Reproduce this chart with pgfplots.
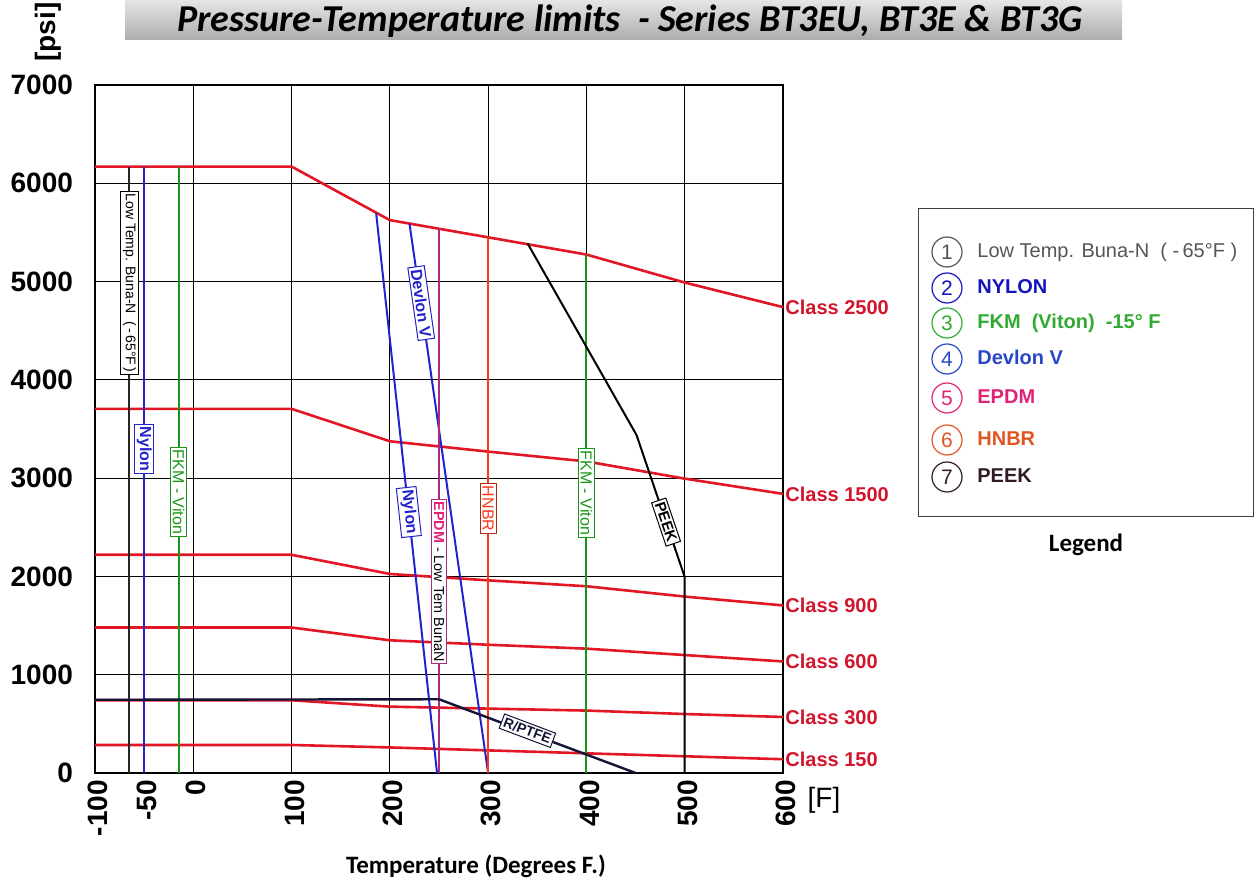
\documentclass[border=0pt]{standalone}
\usepackage{pgfplots}
\pgfplotsset{compat=1.18}
\usepackage{pgfplotstable}
\usepackage{fontspec}
\setmainfont{Liberation Sans}
\newfontfamily\carlito{Carlito}
\definecolor{classred}{RGB}{226,22,36}
\definecolor{labelred}{RGB}{210,20,45}
\definecolor{nylonblue}{RGB}{35,35,205}
\definecolor{fkmgreen}{RGB}{25,150,25}
\definecolor{epdmline}{RGB}{170,45,125}
\definecolor{epdmtext}{RGB}{230,30,120}
\definecolor{hnbr}{RGB}{255,55,25}
\definecolor{ptfe}{RGB}{20,20,55}
\definecolor{legblue2}{RGB}{20,20,190}
\definecolor{leggreen}{RGB}{50,170,50}
\definecolor{legblue4}{RGB}{40,70,200}
\definecolor{legpink}{RGB}{225,35,120}
\definecolor{legorange}{RGB}{225,85,35}
\definecolor{legdark}{RGB}{50,25,40}
\definecolor{leggray}{RGB}{85,85,85}

\pgfplotstableread{
T    c2500 c1500 c900 c600 c300 c150
-100 6170  3705  2220 1480 740  285
100  6170  3705  2220 1480 740  285
200  5625  3375  2025 1350 675  260
300  5450  3270  1960 1305 655  230
400  5275  3170  1900 1265 635  200
500  4990  2995  1795 1200 600  170
600  4740  2840  1705 1135 570  140
}\classes

\tikzset{
  lbl/.style={draw=#1, fill=white, inner sep=1.2pt, line width=0.5pt},
  px/.style={shift={(0,441pt)}, x=0.5pt, y=-0.5pt},
  clab/.style={anchor=west, text=labelred, font=\bfseries\fontsize{10}{10}\selectfont, inner sep=1pt},
}

\begin{document}
\begin{tikzpicture}
\useasboundingbox (0,0) rectangle (629.5pt,441pt);
\begin{axis}[
  at={(47.5pt,54.5pt)}, anchor=south west,
  scale only axis, width=344pt, height=344pt,
  xmin=-100, xmax=600, ymin=0, ymax=7000,
  xtick={-100,-50,0,100,200,300,400,500,600},
  xticklabels={-100,-50,0,100,200,300,400,500,600},
  ytick={0,1000,2000,3000,4000,5000,6000,7000},
  yticklabels={0,1000,2000,3000,4000,5000,6000,7000},
  scaled y ticks=false,
  extra x ticks={0,100,200,300,400,500},
  extra x tick labels={},
  extra x tick style={xmajorgrids=true},
  ymajorgrids=true,
  major tick length=0pt,
  grid style={black, line width=0.6pt},
  axis line style={black, line width=0.9pt},
  xticklabel style={rotate=90, anchor=east, font=\bfseries\fontsize{14}{14}\selectfont, yshift=-1.5pt},
  yticklabel style={font=\bfseries\fontsize{14}{14}\selectfont, xshift=-7.5pt},
  clip=false,
]
\addplot[classred, line width=1.3pt] table[x=T,y=c2500]{\classes};
\addplot[classred, line width=1.3pt] table[x=T,y=c1500]{\classes};
\addplot[classred, line width=1.3pt] table[x=T,y=c900]{\classes};
\addplot[classred, line width=1.3pt] table[x=T,y=c600]{\classes};
\addplot[classred, line width=1.3pt] table[x=T,y=c300]{\classes};
\addplot[classred, line width=1.3pt] table[x=T,y=c150]{\classes};

\addplot[black!85, line width=1pt] coordinates {(-65,0)(-65,6170)};
\addplot[nylonblue, line width=1pt] coordinates {(-50,0)(-50,6170)};
\addplot[fkmgreen, line width=1pt] coordinates {(-15,0)(-15,6170)};
\addplot[nylonblue, line width=1pt] coordinates {(186,5700)(248,0)};
\addplot[nylonblue, line width=1pt] coordinates {(220,5590)(300,0)};
\addplot[epdmline, line width=1pt] coordinates {(250,0)(250,5540)};
\addplot[hnbr, line width=1pt] coordinates {(300,0)(300,5450)};
\addplot[fkmgreen, line width=1pt] coordinates {(400,0)(400,5275)};
\addplot[black, line width=1pt] coordinates {(340,5390)(451,3438)(500,1994)(500,0)};
\addplot[ptfe, line width=1.2pt] coordinates {(-100,745)(250,750)(450,0)};

\node[lbl=black, rotate=-90, font=\fontsize{7}{7}\selectfont] at (axis cs:-65,4985) {Low Temp. Buna-N\ \ (\,-\,65°F\,)};
\node[lbl=nylonblue, rotate=-90, text=nylonblue, font=\bfseries\fontsize{8}{8}\selectfont] at (axis cs:-50,3296) {Nylon};
\node[lbl=fkmgreen, rotate=-90, text=fkmgreen, font=\fontsize{8}{8}\selectfont] at (axis cs:-15,2860) {FKM - Viton};
\node[lbl=nylonblue, rotate=-81.9, text=nylonblue, font=\bfseries\fontsize{8}{8}\selectfont] at (axis cs:231.9,4781) {Devlon V};
\node[lbl=nylonblue, rotate=-83.8, text=nylonblue, font=\bfseries\fontsize{8}{8}\selectfont] at (axis cs:219.3,2655) {Nylon};
\node[lbl=epdmline, rotate=-90, font=\fontsize{7.2}{7.2}\selectfont] at (axis cs:250,1948) {\textcolor{epdmtext}{\bfseries EPDM} - Low Tem BunaN};
\node[lbl=hnbr!70!black, rotate=-90, text=hnbr, font=\fontsize{8}{8}\selectfont] at (axis cs:300,2690) {HNBR};
\node[lbl=fkmgreen, rotate=-90, text=fkmgreen, font=\fontsize{8}{8}\selectfont] at (axis cs:400,2850) {FKM - Viton};
\node[lbl=black, rotate=-71.3, font=\bfseries\fontsize{7.5}{7.5}\selectfont] at (axis cs:481,2553) {PEEK};
\node[lbl=ptfe, rotate=-20.6, text=ptfe, font=\bfseries\fontsize{7}{7}\selectfont] at (axis cs:340,430) {R/PTFE};

\node[clab] at (axis cs:600,4740) {Class 2500};
\node[clab] at (axis cs:600,2840) {Class 1500};
\node[clab] at (axis cs:600,1705) {Class 900};
\node[clab] at (axis cs:600,1135) {Class 600};
\node[clab] at (axis cs:600,570) {Class 300};
\node[clab] at (axis cs:600,140) {Class 150};
\end{axis}

\begin{scope}[px]
\shade[top color=gray!20, bottom color=gray!65] (125,0) rectangle (1122,40);
\node[font=\carlito\bfseries\itshape\fontsize{19}{19}\selectfont] at (630,21) {Pressure-Temperature limits\ \ - Series BT3EU, BT3E \& BT3G};
\node[rotate=90, font=\bfseries\fontsize{14}{14}\selectfont] at (48,32) {[psi]};
\node[font=\fontsize{14}{14}\selectfont] at (824,800) {[F]};
\node[font=\carlito\bfseries\fontsize{12.5}{12.5}\selectfont] at (476,866) {Temperature (Degrees F.)};
\node[font=\carlito\bfseries\fontsize{12.5}{12.5}\selectfont] at (1086,545) {Legend};

\draw[line width=0.5pt, black!75] (918,209) rectangle (1253,517);
\tikzset{lc/.style={circle, draw=#1, text=#1, line width=0.6pt, minimum size=15pt, inner sep=0pt, font=\fontsize{10.5}{10.5}\selectfont},
         lt/.style={anchor=mid west, text=#1, inner sep=0pt}}
\node[lc=leggray]   at (947,252) {1};
\node[lt=leggray, font=\fontsize{10}{10}\selectfont] at (977,252) {Low Temp. Buna-N\ \ (\ -\,65°F\ )};
\node[lc=legblue2]  at (947,288) {2};
\node[lt=legblue2, font=\bfseries\fontsize{10}{10}\selectfont] at (977,288) {NYLON};
\node[lc=leggreen]  at (947,323) {3};
\node[lt=leggreen, font=\bfseries\fontsize{10}{10}\selectfont] at (977,323) {FKM\ \ (Viton)\ \ -15° F};
\node[lc=legblue4]  at (947,359) {4};
\node[lt=legblue4, font=\bfseries\fontsize{10}{10}\selectfont] at (977,359) {Devlon V};
\node[lc=legpink]   at (947,398) {5};
\node[lt=legpink, font=\bfseries\fontsize{10}{10}\selectfont] at (977,398) {EPDM};
\node[lc=legorange] at (947,440) {6};
\node[lt=legorange, font=\bfseries\fontsize{10}{10}\selectfont] at (977,440) {HNBR};
\node[lc=legdark]   at (947,477) {7};
\node[lt=legdark, font=\bfseries\fontsize{10}{10}\selectfont] at (977,477) {PEEK};
\end{scope}
\end{tikzpicture}
\end{document}
